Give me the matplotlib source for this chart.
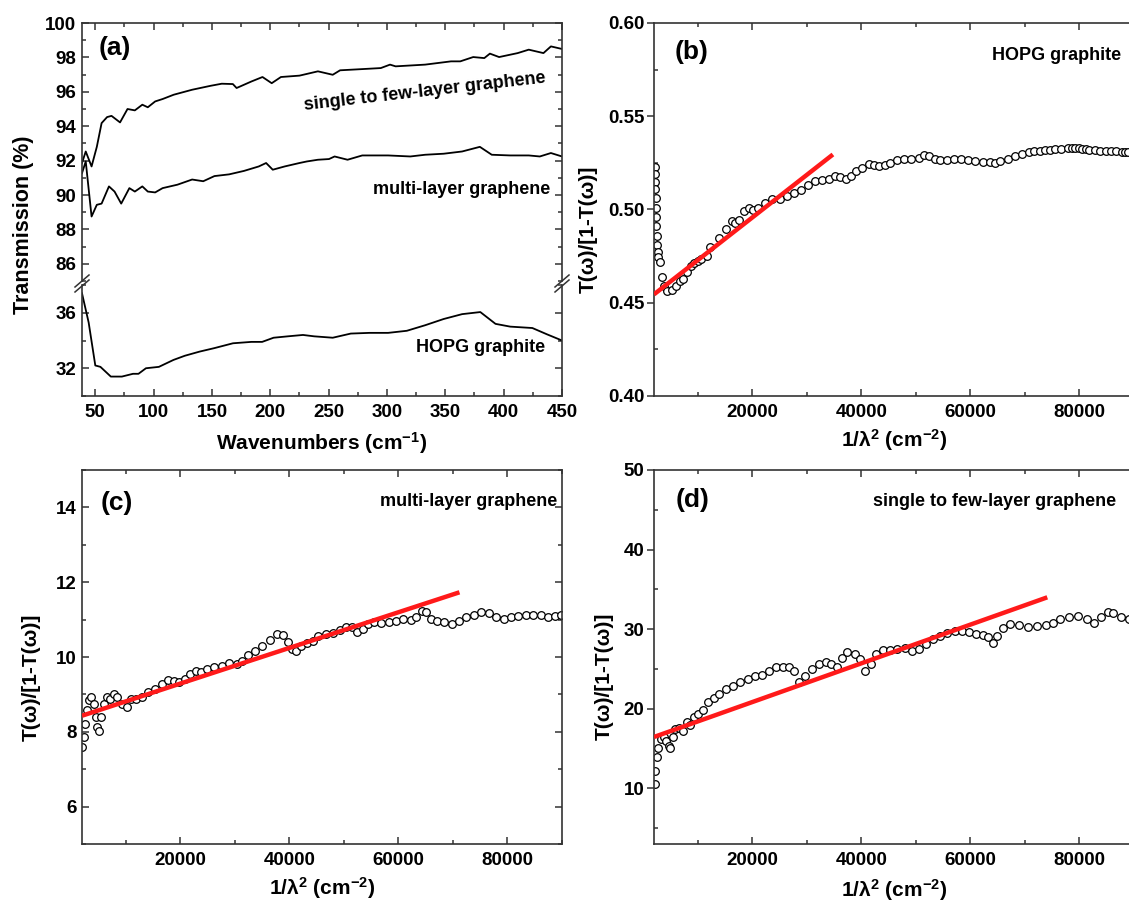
import matplotlib
matplotlib.use('Agg')
import matplotlib.pyplot as plt
from matplotlib.ticker import MultipleLocator, FormatStrFormatter
from matplotlib.lines import Line2D

plt.rcParams['font.family'] = ['Liberation Sans', 'DejaVu Sans']
plt.rcParams['font.weight'] = 'bold'
plt.rcParams['mathtext.fontset'] = 'custom'
plt.rcParams['mathtext.rm'] = 'Liberation Sans:bold'
plt.rcParams['mathtext.it'] = 'Liberation Sans:bold'
plt.rcParams['mathtext.bf'] = 'Liberation Sans:bold'
plt.rcParams['mathtext.default'] = 'rm'

# (a) transmission spectra
wn_single = [38.6, 41.8, 46.8, 51.3, 55.4, 60.1, 63.9, 71.2, 77.6, 83.9, 90.3, 95.0, 101.3, 107.7,
             117.2, 133.0, 148.9, 158.4, 167.9, 171.1, 183.8, 193.3, 201.2, 209.1, 225.0, 240.8,
             253.5, 259.8, 278.8, 294.7, 302.6, 307.4, 332.7, 354.9, 362.8, 373.9, 383.4, 388.2,
             396.1, 412.0, 421.5, 434.1, 440.5, 450]
T_single = [91.86, 92.53, 91.66, 92.8, 94.18, 94.53, 94.6, 94.22, 95.0, 94.92, 95.25, 95.1, 95.44,
            95.58, 95.83, 96.12, 96.35, 96.47, 96.45, 96.22, 96.6, 96.86, 96.5, 96.86, 96.94, 97.19,
            96.99, 97.25, 97.32, 97.38, 97.58, 97.48, 97.58, 97.77, 97.77, 98.02, 97.96, 98.22,
            98.02, 98.25, 98.45, 98.25, 98.64, 98.49]

wn_multi = [38.6, 41.8, 46.8, 51.3, 55.4, 61.7, 66.5, 72.2, 79.2, 83.9, 90.3, 95.0, 101.3, 107.7,
            120.4, 133.0, 142.5, 152.1, 164.7, 177.4, 190.1, 196.4, 202.1, 212.3, 225.0, 231.3,
            240.8, 250.3, 255.1, 266.2, 278.8, 301.0, 320.0, 332.7, 348.6, 364.4, 379.6, 389.8,
            405.6, 421.5, 431.0, 440.5, 450]
T_multi = [91.27, 91.95, 88.75, 89.43, 89.5, 90.5, 90.2, 89.5, 90.4, 90.2, 90.5, 90.2, 90.15, 90.4,
           90.6, 90.9, 90.8, 91.1, 91.2, 91.4, 91.66, 91.86, 91.47, 91.66, 91.86, 91.95, 92.05,
           92.09, 92.24, 92.05, 92.3, 92.3, 92.24, 92.34, 92.4, 92.53, 92.8, 92.34, 92.3, 92.3,
           92.24, 92.44, 92.24]

wn_hopg = [38.6, 44.3, 50, 54.4, 63.3, 72.8, 82.3, 87, 93.4, 104.5, 117, 126.7, 139.4, 152, 168,
           183.8, 193, 202.8, 215, 228, 237.6, 253.5, 269, 285, 301, 317, 332.7, 348.6, 364.4,
           380, 393, 405.6, 424.6, 437, 450]
T_hopg = [37.4, 35.3, 32.2, 32.1, 31.4, 31.4, 31.6, 31.6, 32.0, 32.1, 32.6, 32.9, 33.2, 33.45, 33.8,
          33.9, 33.9, 34.2, 34.3, 34.4, 34.3, 34.2, 34.5, 34.55, 34.55, 34.7, 35.1, 35.55, 35.9,
          36.05, 35.2, 35.0, 34.9, 34.45, 34.0]

# (b) HOPG graphite, T/(1-T) vs 1/lambda^2
b_x = [2100, 2150, 2200, 2250, 2300, 2350, 2400, 2450, 2500, 2550,
       2650, 2800, 3100, 3470, 3900, 4400, 5300, 6000, 6740, 7400,
       8050, 8700, 9360, 10000, 10660, 11640, 12300, 13930, 15230, 16210,
       16870, 17520, 18500, 19350, 20130, 21110, 22420, 23720, 25030, 26330,
       27640, 28950, 30260, 31560, 32860, 34170, 35150, 36130, 37110, 38090,
       39070, 40050, 41350, 42330, 43310, 44290, 45270, 46580, 47880, 49190,
       50500, 51470, 52450, 53430, 54410, 55720, 57030, 58330, 59640, 60940,
       62250, 63560, 64540, 65510, 66820, 68130, 69430, 70740, 71700, 72700,
       73700, 74660, 75600, 76620, 77920, 78600, 79230, 79900, 80530, 81200,
       81840, 82800, 83800, 84800, 85760, 86700, 87720, 88300, 88900]
b_y = [0.523, 0.519, 0.515, 0.511, 0.506, 0.501, 0.496, 0.491, 0.486, 0.481,
       0.477, 0.4745, 0.472, 0.464, 0.459, 0.4565, 0.457, 0.459, 0.4616, 0.463,
       0.4665, 0.4696, 0.4714, 0.4725, 0.4736, 0.475, 0.480, 0.4848, 0.4893, 0.4937,
       0.4929, 0.4946, 0.499, 0.5009, 0.4996, 0.5009, 0.5036, 0.5054, 0.5057, 0.5071,
       0.5089, 0.5107, 0.5129, 0.5152, 0.5157, 0.5161, 0.5179, 0.5175, 0.5161, 0.5179,
       0.5205, 0.5223, 0.5246, 0.5241, 0.5232, 0.5236, 0.525, 0.5264, 0.5271, 0.5271,
       0.5277, 0.5291, 0.5286, 0.5271, 0.5264, 0.5268, 0.5271, 0.5271, 0.5264, 0.5259,
       0.5257, 0.5254, 0.525, 0.5259, 0.5271, 0.5286, 0.53, 0.5309, 0.5312, 0.5316,
       0.5319, 0.5321, 0.5323, 0.5325, 0.5329, 0.533, 0.533, 0.5328, 0.5325, 0.5322,
       0.5318, 0.5317, 0.5316, 0.5315, 0.5313, 0.5311, 0.5309, 0.5308, 0.5307]
fit_b_x = [2000, 34800]
fit_b_y = [0.4545, 0.5295]

# (c) multi-layer graphene
c_x = [2050, 2300, 2600, 3000, 3280, 3690, 4160, 4500, 4840, 5040, 5520, 6000, 6540, 7220, 7900,
       8440, 9260, 10280, 10960, 11980, 13000, 14020, 15380, 16740, 17760, 18780, 19800, 20820,
       21840, 22860, 23880, 24890, 26250, 27610, 28970, 30330, 31350, 32370, 33730, 35090, 36450,
       37810, 38830, 39850, 40530, 41210, 42230, 43250, 44270, 45290, 46650, 48010, 49370, 50390,
       51410, 52430, 53450, 54470, 55490, 56850, 58210, 59560, 60920, 62280, 63300, 64320, 65000,
       66020, 67040, 68400, 69760, 71120, 72480, 73840, 75200, 76560, 77920, 79280, 80640, 82000,
       83360, 84720, 86080, 87440, 88800, 89900]
c_y = [7.59, 7.86, 8.21, 8.57, 8.84, 8.94, 8.75, 8.39, 8.12, 8.03, 8.39, 8.75, 8.92, 8.88, 9.01,
       8.92, 8.75, 8.67, 8.88, 8.88, 8.92, 9.06, 9.15, 9.28, 9.39, 9.37, 9.32, 9.41, 9.55, 9.62,
       9.59, 9.68, 9.73, 9.77, 9.83, 9.81, 9.90, 10.06, 10.17, 10.30, 10.46, 10.62, 10.60, 10.39,
       10.22, 10.17, 10.30, 10.37, 10.44, 10.57, 10.62, 10.63, 10.71, 10.79, 10.79, 10.66, 10.75,
       10.88, 10.93, 10.91, 10.93, 10.97, 11.02, 10.99, 11.06, 11.24, 11.20, 11.02, 10.97, 10.93,
       10.88, 10.97, 11.06, 11.13, 11.20, 11.17, 11.06, 11.02, 11.06, 11.09, 11.12, 11.13, 11.11,
       11.08, 11.09, 11.11]
fit_c_x = [2000, 71200]
fit_c_y = [8.43, 11.73]

# (d) single to few-layer graphene
d_x = [2140, 2270, 2470, 2790, 3320, 3770, 4230, 4750, 4890, 5410, 5930, 6590, 7240, 8030, 8680,
       9330, 10120, 10970, 11950, 12930, 13910, 15220, 16530, 17840, 19150, 20460, 21770, 23080,
       24380, 25690, 26670, 27660, 28640, 29620, 30930, 32240, 33540, 34530, 35510, 36490, 37470,
       38780, 39760, 40740, 41720, 42710, 44010, 45320, 46630, 47940, 49250, 50560, 51860, 53170,
       54480, 55790, 57100, 58410, 59710, 61020, 62330, 63310, 64170, 64950, 65930, 67240, 68880,
       70510, 72150, 73780, 75090, 76400, 78040, 79670, 81310, 82620, 83930, 85240, 86220, 87530,
       89030]
d_y = [10.5, 12.2, 13.9, 15.1, 16.2, 16.5, 16.0, 15.3, 15.1, 16.4, 17.4, 17.6, 17.2, 18.3, 18.0,
       18.9, 19.3, 19.9, 20.8, 21.4, 21.9, 22.5, 22.9, 23.3, 23.7, 24.1, 24.3, 24.8, 25.2, 25.3,
       25.3, 24.8, 23.3, 24.1, 25.0, 25.6, 25.9, 25.6, 25.3, 26.4, 27.1, 26.9, 26.2, 24.8, 25.6,
       26.9, 27.4, 27.4, 27.5, 27.6, 27.3, 27.5, 28.1, 28.7, 29.2, 29.5, 29.8, 29.8, 29.6, 29.4,
       29.3, 29.0, 28.2, 29.2, 30.2, 30.7, 30.5, 30.3, 30.4, 30.5, 30.8, 31.3, 31.5, 31.6, 31.3,
       30.8, 31.5, 32.1, 32.0, 31.5, 31.3]
fit_d_x = [2000, 74100]
fit_d_y = [16.45, 34.0]

W, H = 1129, 902
fig = plt.figure(figsize=(W / 100, H / 100), dpi=100)
SPINE = '#333333'


def px_axes(l, t, r, b):
    return fig.add_axes([l / W, 1 - b / H, (r - l) / W, (b - t) / H])


def ftext(px, py, s, **kw):
    fig.text(px / W, 1 - py / H, s, **kw)


def style(ax):
    for s in ax.spines.values():
        s.set_linewidth(1.2)
        s.set_color(SPINE)
    ax.tick_params(which='both', direction='in', top=True, right=True, labelsize=13.5,
                   width=1.1, color=SPINE, pad=4)
    ax.tick_params(which='major', length=5)
    ax.tick_params(which='minor', length=3)
    ax.tick_params(axis='x', pad=6)


# ---- panel (a) with broken y axis
ax_up = px_axes(82, 23, 562, 281)
ax_lo = px_axes(82, 285, 562, 396)
for ax in (ax_up, ax_lo):
    style(ax)
    ax.set_xlim(38.6, 450)
    ax.xaxis.set_major_locator(MultipleLocator(50))
    ax.xaxis.set_minor_locator(MultipleLocator(25))
ax_up.plot(wn_single, T_single, color='black', lw=1.3)
ax_up.plot(wn_multi, T_multi, color='black', lw=1.3)
ax_lo.plot(wn_hopg, T_hopg, color='black', lw=1.3)
ax_up.set_ylim(85, 100)
ax_up.yaxis.set_major_locator(MultipleLocator(2))
ax_up.yaxis.set_minor_locator(MultipleLocator(1))
ax_up.spines['bottom'].set_visible(False)
ax_up.tick_params(which='both', bottom=False, labelbottom=False)
ax_lo.set_ylim(30, 38)
ax_lo.yaxis.set_major_locator(MultipleLocator(4))
ax_lo.yaxis.set_minor_locator(MultipleLocator(2))
ax_lo.spines['top'].set_visible(False)
ax_lo.tick_params(which='both', top=False)

# break marks
for x0 in (82, 562):
    for y0 in (281, 286):
        fig.add_artist(Line2D([(x0 - 7) / W, (x0 + 7) / W],
                              [1 - (y0 + 6) / H, 1 - (y0 - 6) / H],
                              color=SPINE, lw=1.1))

ftext(99, 48, '(a)', fontsize=19, ha='left', va='center')
ftext(425, 92, 'single to few-layer graphene', fontsize=13, ha='center', va='center', rotation=6.5)
ftext(462, 190, 'multi-layer graphene', fontsize=13, ha='center', va='center')
ftext(481, 348, 'HOPG graphite', fontsize=13, ha='center', va='center')
ftext(322, 443, 'Wavenumbers (cm$^{-1}$)', fontsize=15, ha='center', va='center')
ftext(24, 225, 'Transmission (%)', fontsize=15.5, ha='center', va='center', rotation=90)


def ratio_panel(l, t, r, b, xs, ys, fx, fy, ylim, ymaj, ymin, yfmt, out_major):
    ax = px_axes(l, t, r, b)
    style(ax)
    if out_major:
        ax.tick_params(axis='y', which='major', direction='out', length=5, pad=2)
    ax.plot(xs, ys, linestyle='none', marker='o', ms=5.5, mfc='white', mec='black',
            mew=0.9, zorder=2)
    ax.plot(fx, fy, color='#ff1a1a', lw=3.2, solid_capstyle='butt', zorder=3)
    ax.set_xlim(2000, 90000)
    ax.set_ylim(*ylim)
    ax.xaxis.set_major_locator(MultipleLocator(20000))
    ax.xaxis.set_minor_locator(MultipleLocator(10000))
    ax.yaxis.set_major_locator(MultipleLocator(ymaj))
    ax.yaxis.set_minor_locator(MultipleLocator(ymin))
    ax.yaxis.set_major_formatter(FormatStrFormatter(yfmt))
    return ax


ratio_panel(654, 23, 1134, 396, b_x, b_y, fit_b_x, fit_b_y, (0.40, 0.60), 0.05, 0.025, '%.2f', True)
ratio_panel(82, 470, 562, 844, c_x, c_y, fit_c_x, fit_c_y, (5, 15), 2, 1, '%d', False)
ratio_panel(654, 470, 1134, 844, d_x, d_y, fit_d_x, fit_d_y, (3, 50), 10, 5, '%d', True)

xlab = '1/\u03bb$^{2}$ (cm$^{-2}$)'
ylab = 'T(\u03c9)/[1-T(\u03c9)]'
ftext(675, 52, '(b)', fontsize=19, ha='left', va='center')
ftext(1121, 55, 'HOPG graphite', fontsize=13, ha='right', va='center')
ftext(894, 440, xlab, fontsize=15, ha='center', va='center')
ftext(588, 229, ylab, fontsize=15, ha='center', va='center', rotation=90)

ftext(101, 503, '(c)', fontsize=19, ha='left', va='center')
ftext(557, 502, 'multi-layer graphene', fontsize=13, ha='right', va='center')
ftext(322, 888, xlab, fontsize=15, ha='center', va='center')
ftext(31, 677, ylab, fontsize=15, ha='center', va='center', rotation=90)

ftext(676, 500, '(d)', fontsize=19, ha='left', va='center')
ftext(1116, 501, 'single to few-layer graphene', fontsize=13, ha='right', va='center')
ftext(894, 890, xlab, fontsize=15, ha='center', va='center')
ftext(604, 676, ylab, fontsize=15, ha='center', va='center', rotation=90)

fig.savefig('out.png', dpi=100)
